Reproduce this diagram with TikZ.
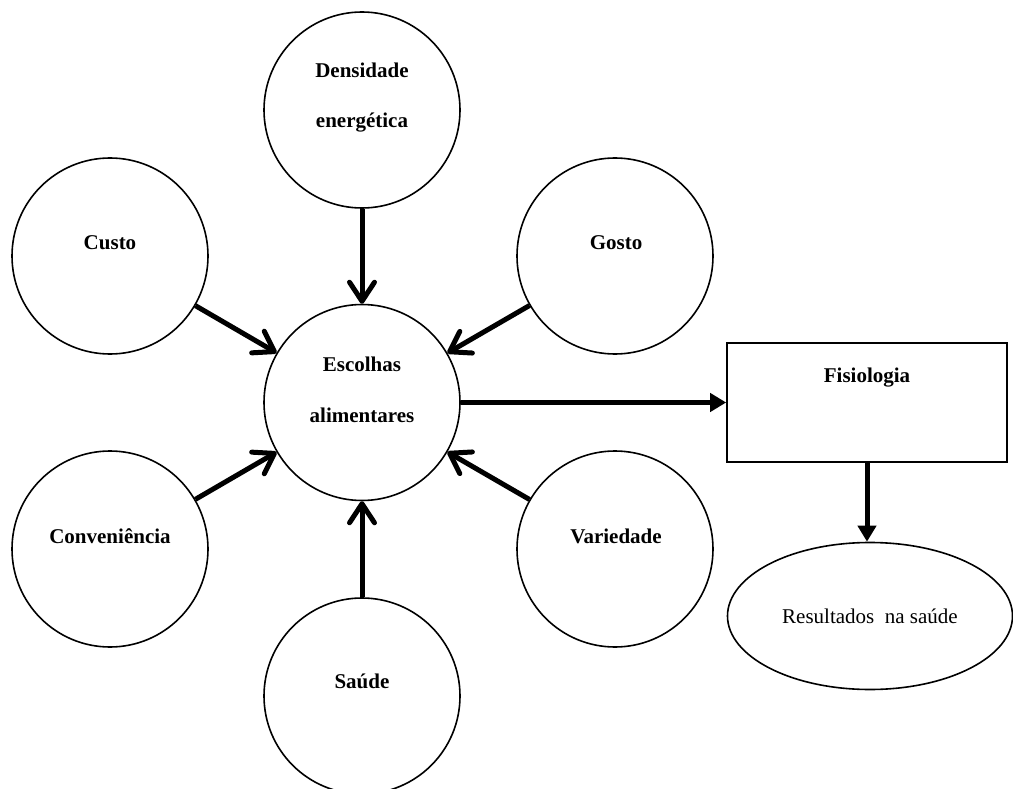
\documentclass[tikz,border=0pt]{standalone}
\usepackage{fontspec}
\setmainfont{Liberation Serif}
\usetikzlibrary{arrows.meta,shapes.geometric}
\begin{document}
\begin{tikzpicture}[x=1pt,y=-1pt,
  factor/.style={circle,draw,line width=1.6pt,minimum size=196pt,inner sep=0pt},
  lbl/.style={font=\fontsize{21}{25}\selectfont\bfseries,anchor=base,inner sep=0pt},
  influence/.style={line width=5pt,-{Straight Barb[length=19pt,width=25pt,round]}},
  flow/.style={line width=5pt,-{Triangle[length=16pt,width=18pt]}}]
\useasboundingbox (0,0) rectangle (1013,789);
\fill[white] (0,0) rectangle (1013,789);

% factor circles
\node[factor] (dens)  at (362,110) {};
\node[factor] (custo) at (110,256) {};
\node[factor] (gosto) at (615,256) {};
\node[factor] (esc)   at (362,402.5) {};
\node[factor] (conv)  at (110,549) {};
\node[factor] (var)   at (615,549) {};
\node[factor] (saude) at (362,696) {};

% outcome boxes
\node[draw,line width=1.6pt,minimum width=280pt,minimum height=119pt,inner sep=0pt] (fis) at (867,402.5) {};
\node[ellipse,draw,line width=1.6pt,minimum width=285pt,minimum height=147pt,inner sep=0pt,
      font=\fontsize{21}{25}\selectfont] (res) at (870,616) {Resultados\ \ na saúde};

% labels
\node[lbl] (dens-a) at (362,78)  {Densidade};
\node[lbl] (dens-b) at (362,128) {energética};
\node[lbl] (custo-t) at (110,250) {Custo};
\node[lbl] (gosto-t) at (616,250) {Gosto};
\node[lbl] (esc-a) at (362,371) {Escolhas};
\node[lbl] (esc-b) at (362,422) {alimentares};
\node[lbl] (conv-t) at (110,543) {Conveniência};
\node[lbl] (var-t) at (616,543) {Variedade};
\node[lbl] (saude-t) at (362,688) {Saúde};
\node[lbl] (fis-t) at (867,382) {Fisiologia};

% influences on food choice
\draw[influence] (dens)  -- (esc);
\draw[influence] (custo) -- (esc);
\draw[influence] (gosto) -- (esc);
\draw[influence] (conv)  -- (esc);
\draw[influence] (var)   -- (esc);
\draw[influence] (saude) -- (esc);

% downstream flow
\draw[flow] (esc) -- (fis);
\draw[flow] (fis.south) -- (fis.south |- res.north);
\end{tikzpicture}
\end{document}
